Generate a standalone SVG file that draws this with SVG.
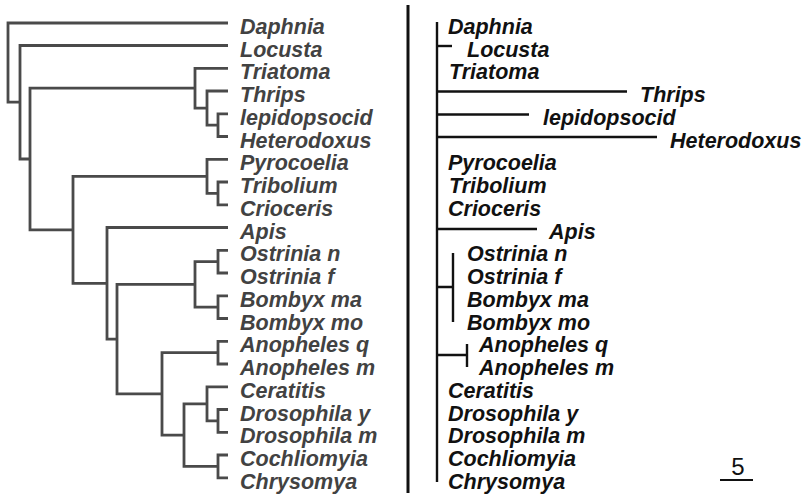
<svg xmlns="http://www.w3.org/2000/svg" width="803" height="498" viewBox="0 0 803 498">
<style>
.lt{font-family:"Liberation Sans",Arial,sans-serif;font-size:21.5px;font-weight:bold;font-style:italic;fill:#424242}
.rt{font-family:"Liberation Sans",Arial,sans-serif;font-size:21.5px;font-weight:bold;font-style:italic;fill:#111}
.le{fill:none;stroke:#4a4a4a;stroke-width:2.8;stroke-linejoin:miter;stroke-linecap:butt}
.re{fill:none;stroke:#111;stroke-width:2.4}
</style>
<rect width="803" height="498" fill="#fff"/>
<g id="left-connectors" class="le">
<path d="M228 113.8H218V136.5H228"/>
<path d="M228 91H207V125.2H218"/>
<path d="M228 68.3H195V108.1H207"/>
<path d="M228 182H218V204.8H228"/>
<path d="M228 159.3H207V193.4H218"/>
<path d="M228 250.3H218V273H228"/>
<path d="M228 295.8H218V318.5H228"/>
<path d="M218 261.7H195V307.2H218"/>
<path d="M228 341.3H218V364H228"/>
<path d="M228 409.5H218V432.3H228"/>
<path d="M228 386.8H207V420.9H218"/>
<path d="M228 455H218V477.8H228"/>
<path d="M207 403.9H184V466.4H218"/>
<path d="M218 352.7H162V435.1H184"/>
<path d="M195 284.4H117V393.9H162"/>
<path d="M228 227.5H107V339.1H117"/>
<path d="M207 176.4H73V283.3H107"/>
<path d="M195 88.2H30V229.8H73"/>
<path d="M228 45.5H20V159H30"/>
<path d="M228 23H8V102.2H20"/>
</g>
<g id="left-labels">
<g id="L-Daphnia"><text class="lt" x="240" y="34">Daphnia</text></g>
<g id="L-Locusta"><text class="lt" x="240" y="56.5">Locusta</text></g>
<g id="L-Triatoma"><text class="lt" x="240" y="79.3">Triatoma</text></g>
<g id="L-Thrips"><text class="lt" x="240" y="102">Thrips</text></g>
<g id="L-lepidopsocid"><text class="lt" x="240" y="124.8">lepidopsocid</text></g>
<g id="L-Heterodoxus"><text class="lt" x="240" y="147.5">Heterodoxus</text></g>
<g id="L-Pyrocoelia"><text class="lt" x="240" y="170.3">Pyrocoelia</text></g>
<g id="L-Tribolium"><text class="lt" x="240" y="193">Tribolium</text></g>
<g id="L-Crioceris"><text class="lt" x="240" y="215.8">Crioceris</text></g>
<g id="L-Apis"><text class="lt" x="240" y="238.5">Apis</text></g>
<g id="L-OstriniaN"><text class="lt" x="240" y="261.3">Ostrinia n</text></g>
<g id="L-OstriniaF"><text class="lt" x="240" y="284">Ostrinia f</text></g>
<g id="L-BombyxMa"><text class="lt" x="240" y="306.8">Bombyx ma</text></g>
<g id="L-BombyxMo"><text class="lt" x="240" y="329.5">Bombyx mo</text></g>
<g id="L-AnophelesQ"><text class="lt" x="240" y="352.3">Anopheles q</text></g>
<g id="L-AnophelesM"><text class="lt" x="240" y="375">Anopheles m</text></g>
<g id="L-Ceratitis"><text class="lt" x="240" y="397.8">Ceratitis</text></g>
<g id="L-DrosophilaY"><text class="lt" x="240" y="420.5">Drosophila y</text></g>
<g id="L-DrosophilaM"><text class="lt" x="240" y="443.3">Drosophila m</text></g>
<g id="L-Cochliomyia"><text class="lt" x="240" y="466">Cochliomyia</text></g>
<g id="L-Chrysomya"><text class="lt" x="240" y="488.8">Chrysomya</text></g>
</g>
<g id="right-connectors" class="re">
<path d="M408 5V493" stroke-width="3"/>
<path d="M437 22V482"/>
<path d="M437 46H452"/>
<path d="M437 91.5H627"/>
<path d="M437 114.5H529"/>
<path d="M437 137H657"/>
<path d="M437 229H537"/>
<path d="M437 287H453M453 253V322"/>
<path d="M437 355H467M467 344V367"/>
</g>
<g id="right-labels">
<g id="R-Daphnia"><text class="rt" x="448" y="34">Daphnia</text></g>
<g id="R-Locusta"><text class="rt" x="467" y="56.5">Locusta</text></g>
<g id="R-Triatoma"><text class="rt" x="449" y="79.3">Triatoma</text></g>
<g id="R-Thrips"><text class="rt" x="640" y="102">Thrips</text></g>
<g id="R-lepidopsocid"><text class="rt" x="543" y="124.8">lepidopsocid</text></g>
<g id="R-Heterodoxus"><text class="rt" x="670" y="147.5">Heterodoxus</text></g>
<g id="R-Pyrocoelia"><text class="rt" x="448" y="170.3">Pyrocoelia</text></g>
<g id="R-Tribolium"><text class="rt" x="449" y="193">Tribolium</text></g>
<g id="R-Crioceris"><text class="rt" x="448" y="215.8">Crioceris</text></g>
<g id="R-Apis"><text class="rt" x="549" y="238.5">Apis</text></g>
<g id="R-OstriniaN"><text class="rt" x="467" y="261.3">Ostrinia n</text></g>
<g id="R-OstriniaF"><text class="rt" x="467" y="284">Ostrinia f</text></g>
<g id="R-BombyxMa"><text class="rt" x="467" y="306.8">Bombyx ma</text></g>
<g id="R-BombyxMo"><text class="rt" x="467" y="329.5">Bombyx mo</text></g>
<g id="R-AnophelesQ"><text class="rt" x="479" y="352.3">Anopheles q</text></g>
<g id="R-AnophelesM"><text class="rt" x="479" y="375">Anopheles m</text></g>
<g id="R-Ceratitis"><text class="rt" x="448" y="397.8">Ceratitis</text></g>
<g id="R-DrosophilaY"><text class="rt" x="448" y="420.5">Drosophila y</text></g>
<g id="R-DrosophilaM"><text class="rt" x="448" y="443.3">Drosophila m</text></g>
<g id="R-Cochliomyia"><text class="rt" x="448" y="466">Cochliomyia</text></g>
<g id="R-Chrysomya"><text class="rt" x="448" y="488.8">Chrysomya</text></g>
</g>
<g id="scale-bar">
<text x="738" y="475" text-anchor="middle" style="font-family:'Liberation Sans',Arial,sans-serif;font-size:24px;fill:#111">5</text>
<path d="M720 480H753" stroke="#111" stroke-width="2"/>
</g>
</svg>
